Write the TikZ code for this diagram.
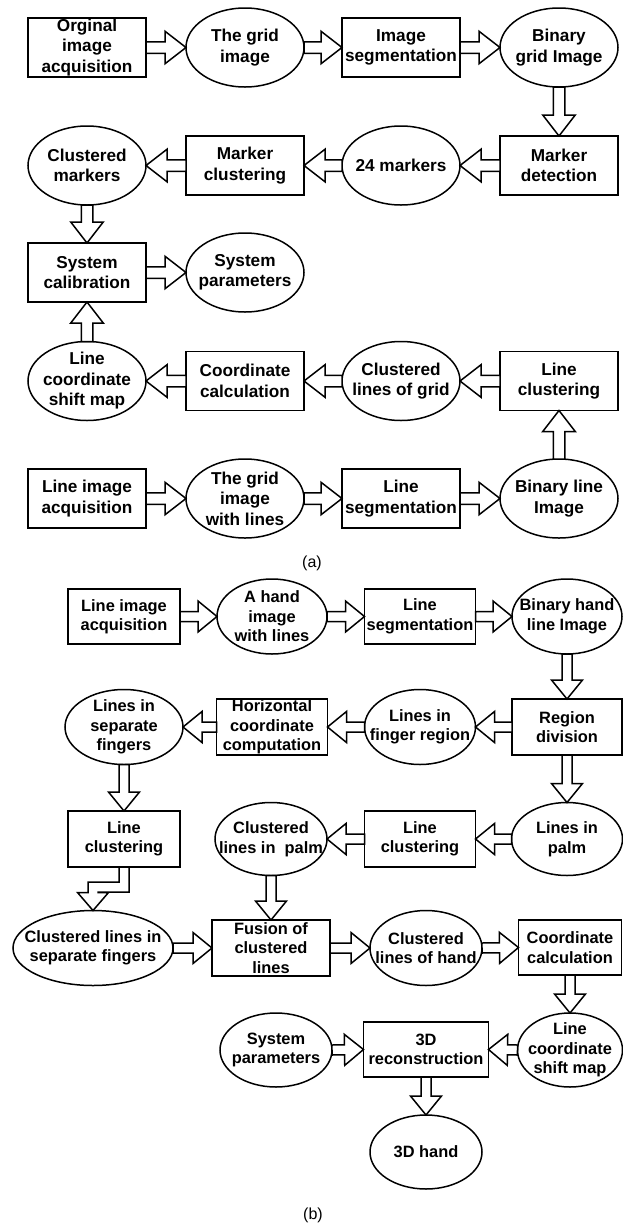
\documentclass[tikz,border=0pt]{standalone}
\usepackage{fontspec}
\setmainfont{Liberation Sans}
\usetikzlibrary{shapes.geometric,calc}
\newcommand\myfA{\fontsize{17.2}{20.5}\selectfont\bfseries}
\newcommand\myfB{\fontsize{16.4}{19.5}\selectfont\bfseries}
\newcommand\arrSW{5.75pt}
\newcommand\arrHW{16.25pt}
\newcommand\arrHL{21pt}
\newcommand{\barrow}[2]{%
\draw[arr] let \p1=(#1), \p2=(#2), \n1={atan2(\y2-\y1,\x2-\x1)}, \n2={veclen(\x2-\x1,\y2-\y1)-\arrHL} in
 ($(\p1)+(\n1+90:\arrSW)$) -- ($(\p1)+(\n1:\n2)+(\n1+90:\arrSW)$) -- ($(\p1)+(\n1:\n2)+(\n1+90:\arrHW)$) -- (\p2) -- ($(\p1)+(\n1:\n2)+(\n1-90:\arrHW)$) -- ($(\p1)+(\n1:\n2)+(\n1-90:\arrSW)$) -- ($(\p1)+(\n1-90:\arrSW)$) -- cycle;}
\tikzset{
 nd/.style={draw, line width=1.5pt, inner sep=0pt, outer sep=0pt},
 rb/.style 2 args={nd, rectangle, minimum width=#1, minimum height=#2},
 eb/.style 2 args={nd, ellipse, minimum width=#1, minimum height=#2},
 ta/.style={font=\myfA, align=center, inner sep=0pt},
 tb/.style={font=\myfB, align=center, inner sep=0pt},
 arr/.style={draw, line width=1.5pt, line join=miter, fill=white},
 captxt/.style={font=\fontsize{16}{19}\selectfont, inner sep=0pt},
}
\begin{document}
\begin{tikzpicture}[x=1pt,y=-1pt]
\fill[white] (0,0) rectangle (623,1227);
\useasboundingbox (0,0) rectangle (623,1227);
% ---------- part (a)
\node[rb={118pt}{59pt}, label={[ta]center:Orginal\\image\\acquisition}] (oia) at (87,47.5) {};
\node[eb={118pt}{79pt}, label={[ta]center:The grid\\image}] (tgi) at (245,47.5) {};
\node[rb={118pt}{59pt}, label={[ta]center:Image\\segmentation}] (iseg) at (401,47.5) {};
\node[eb={118pt}{79pt}, label={[ta]center:Binary\\grid Image}] (bgi) at (559,47.5) {};
\node[eb={118pt}{79pt}, label={[ta]center:Clustered\\markers}] (cm) at (87,165.5) {};
\node[rb={118pt}{59pt}, label={[ta]center:Marker\\clustering}] (mc) at (245,165.5) {};
\node[eb={118pt}{79pt}, label={[ta]center:24 markers}] (m24) at (401,165.5) {};
\node[rb={118pt}{59pt}, label={[ta]center:Marker\\detection}] (md) at (559,165.5) {};
\node[rb={118pt}{59pt}, label={[ta]center:System\\calibration}] (sc) at (87,272.5) {};
\node[eb={118pt}{79pt}, label={[ta]center:System\\parameters}] (sp) at (245,272.5) {};
\node[eb={118pt}{79pt}, label={[ta]center:Line\\coordinate\\shift map}] (lcsm) at (87,381) {};
\node[rb={118pt}{59pt}, label={[ta]center:Coordinate\\calculation}] (cc) at (245,381) {};
\node[eb={118pt}{79pt}, label={[ta]center:Clustered\\lines of grid}] (clg) at (401,381) {};
\node[rb={118pt}{59pt}, label={[ta]center:Line\\clustering}] (lcl) at (559,381) {};
\node[rb={118pt}{59pt}, label={[ta]center:Line image\\acquisition}] (lia) at (87,498.5) {};
\node[eb={118pt}{79pt}, label={[ta]center:The grid\\image\\with lines}] (tgiwl) at (245,498.5) {};
\node[rb={118pt}{59pt}, label={[ta]center:Line\\segmentation}] (lseg) at (401,498.5) {};
\node[eb={118pt}{79pt}, label={[ta]center:Binary line\\Image}] (bli) at (559,498.5) {};
\node[captxt] (capa) at (312,563) {(a)};
\barrow{oia.east}{tgi.west}
\barrow{tgi.east}{iseg.west}
\barrow{iseg.east}{bgi.west}
\barrow{bgi.south}{md.north}
\barrow{md.west}{m24.east}
\barrow{m24.west}{mc.east}
\barrow{mc.west}{cm.east}
\barrow{cm.south}{sc.north}
\barrow{sc.east}{sp.west}
\barrow{lcsm.north}{sc.south}
\barrow{cc.west}{lcsm.east}
\barrow{clg.west}{cc.east}
\barrow{lcl.west}{clg.east}
\barrow{bli.north}{lcl.south}
\barrow{lia.east}{tgiwl.west}
\barrow{tgiwl.east}{lseg.west}
\barrow{lseg.east}{bli.west}
% ---------- part (b)
\renewcommand\arrSW{5pt}
\renewcommand\arrHW{15.5pt}
\renewcommand\arrHL{19pt}
\node[rb={112pt}{55pt}, label={[tb]center:Line image\\acquisition}] (blia) at (124,616.5) {};
\node[eb={110pt}{75pt}, label={[tb]center:A hand\\image\\with lines}] (bah) at (272,616.5) {};
\node[rb={111pt}{55pt}, label={[tb]center:Line\\segmentation}] (blseg) at (420,616.5) {};
\node[eb={110pt}{75pt}, label={[tb]center:Binary hand\\line Image}] (bbh) at (567,616.5) {};
\node[eb={118pt}{75pt}, label={[tb]center:Lines in\\separate\\fingers}] (blsf) at (124,727) {};
\node[rb={111pt}{56pt}, label={[tb]center:Horizontal\\coordinate\\computation}] (bhcc) at (272,727) {};
\node[eb={111pt}{75pt}, label={[tb]center:Lines in\\finger region}] (blfr) at (420,727) {};
\node[rb={110pt}{56pt}, label={[tb]center:Region\\division}] (brd) at (567,727) {};
\node[rb={112pt}{56pt}, label={[tb]center:Line\\clustering}] (blc1) at (124,839) {};
\node[eb={112pt}{73pt}, label={[tb]center:Clustered\\lines in~~palm}] (bclp) at (271,839) {};
\node[rb={111pt}{56pt}, label={[tb]center:Line\\clustering}] (blc2) at (420,839) {};
\node[eb={111pt}{73pt}, label={[tb]center:Lines in\\palm}] (blp) at (567,839) {};
\node[eb={160pt}{75pt}, label={[tb]center:Clustered lines in\\separate fingers}] (bclsf) at (93,948) {};
\node[rb={118pt}{56pt}, label={[tb]center:Fusion of\\clustered\\lines}] (bfus) at (271,948) {};
\node[eb={112pt}{75pt}, label={[tb]center:Clustered\\lines of hand}] (bclh) at (426,948) {};
\node[rb={103pt}{55pt}, label={[tb]center:Coordinate\\calculation}] (bcc) at (570,947.5) {};
\node[eb={112pt}{74pt}, label={[tb]center:System\\parameters}] (bsp) at (276,1050) {};
\node[rb={125pt}{55pt}, label={[tb]center:3D\\reconstruction}] (brec) at (426,1049.5) {};
\node[eb={105pt}{74pt}, label={[tb]center:Line\\coordinate\\shift map}] (blcsm) at (570,1050) {};
\node[eb={112pt}{74pt}, label={[tb]center:3D hand}] (bhand) at (426,1152) {};
\node[captxt] (capb) at (313,1215) {(b)};
\barrow{blia.east}{bah.west}
\barrow{bah.east}{blseg.west}
\barrow{blseg.east}{bbh.west}
\barrow{bbh.south}{brd.north}
\barrow{brd.west}{blfr.east}
\barrow{blfr.west}{bhcc.east}
\barrow{bhcc.west}{blsf.east}
\barrow{blsf.south}{blc1.north}
\barrow{brd.south}{blp.north}
\barrow{blp.west}{blc2.east}
\barrow{blc2.west}{bclp.east}
\barrow{bclp.south}{bfus.north}
\barrow{bclsf.east}{bfus.west}
\barrow{bfus.east}{bclh.west}
\barrow{bclh.east}{bcc.west}
\barrow{bcc.south}{blcsm.north}
\barrow{bsp.east}{brec.west}
\barrow{blcsm.west}{brec.east}
\barrow{brec.south}{bhand.north}
\draw[arr] let \p1=(blc1.south), \p2=(bclsf.north) in
 (\x1-5pt,\y1) -- (\x1-5pt,\y1-15pt) -- (\x2-5pt,\y1-15pt) -- (\x2-5pt,\y2+18pt) -- (\x2-15.5pt,\y2+18pt) -- (\p2) -- (\x2+15.5pt,\y2+18pt) -- (\x2+5pt,\y2+18pt) -- (\x2+5pt,\y1-25pt) -- (\x1+5pt,\y1-25pt) -- (\x1+5pt,\y1) -- cycle;
\end{tikzpicture}
\end{document}
